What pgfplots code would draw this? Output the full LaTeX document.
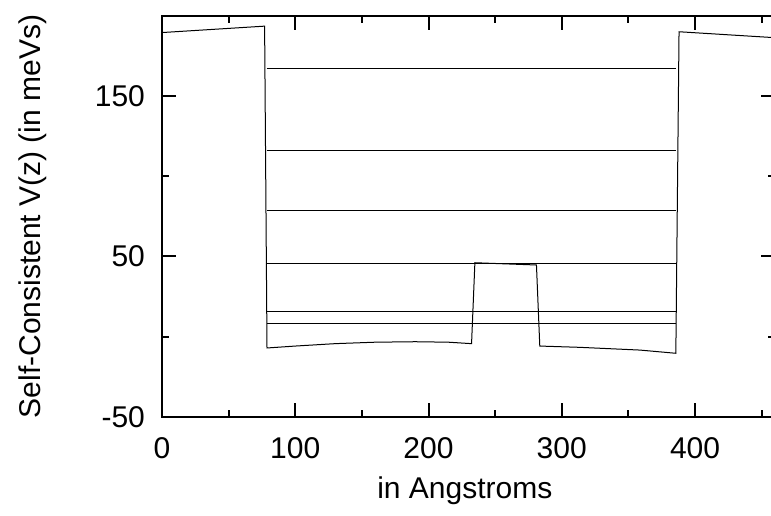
\documentclass[border=0pt]{standalone}
\usepackage{fontspec}
\setmainfont{Liberation Sans}
\usepackage{pgfplots}
\pgfplotsset{compat=1.18}
\begin{document}
\begin{tikzpicture}
\begin{axis}[
  scale only axis, width=306.5pt, height=200.65pt,
  xmin=0, xmax=460, ymin=-50, ymax=200,
  xtick={0,100,200,300,400}, minor xtick={50,150,250,350,450},
  ytick={-50,50,150}, minor ytick={0,100},
  tick align=inside,
  major tick length=7pt, minor tick length=3.5pt,
  tick style={black, line width=1pt},
  axis line style={line width=1pt},
  font=\fontsize{15}{18}\selectfont,
  /pgf/number format/assume math mode=true,
  ticklabel style={font=\fontsize{15}{18}\selectfont},
  xticklabel style={yshift=-6.5pt},
  yticklabel style={xshift=-5pt},
  xlabel={in Angstroms},
  ylabel={Self-Consistent V(z) (in meVs)},
  xlabel style={at={(axis description cs:0.494,0)}, anchor=center, yshift=-37pt},
  ylabel style={at={(axis description cs:-0.2104,0.5)}, anchor=center},
]
\addplot[black, line width=0.5pt] coordinates {
  (0,189.5) (77,193.5) (78.8,-7) (100,-5.8) (130,-4.3) (160,-3.4) (190,-3.1)
  (215,-3.4) (232.3,-4.3) (234.8,46.1) (281,44.7) (283.5,-5.8) (313.6,-6.6)
  (358.6,-8.3) (385.6,-10.3) (388,190) (460,186.3)
};
\addplot[black, line width=0.5pt] coordinates {(78.5,166.8) (385.6,166.8)};
\addplot[black, line width=0.5pt] coordinates {(78.5,115.9) (385.6,115.9)};
\addplot[black, line width=0.5pt] coordinates {(78.5,78.5) (385.6,78.5)};
\addplot[black, line width=0.5pt] coordinates {(78.5,45.8) (385.6,45.8)};
\addplot[black, line width=0.5pt] coordinates {(78.5,15.6) (385.6,15.6)};
\addplot[black, line width=0.5pt] coordinates {(78.5,8.1) (385.6,8.1)};
\coordinate (SW) at (rel axis cs:0,0);
\coordinate (NW) at (rel axis cs:0,1);
\end{axis}
\pgfresetboundingbox
\path[use as bounding box] ([xshift=-81pt,yshift=-49pt]SW) rectangle ([xshift=304.5pt,yshift=7.85pt]NW);
\end{tikzpicture}
\end{document}
